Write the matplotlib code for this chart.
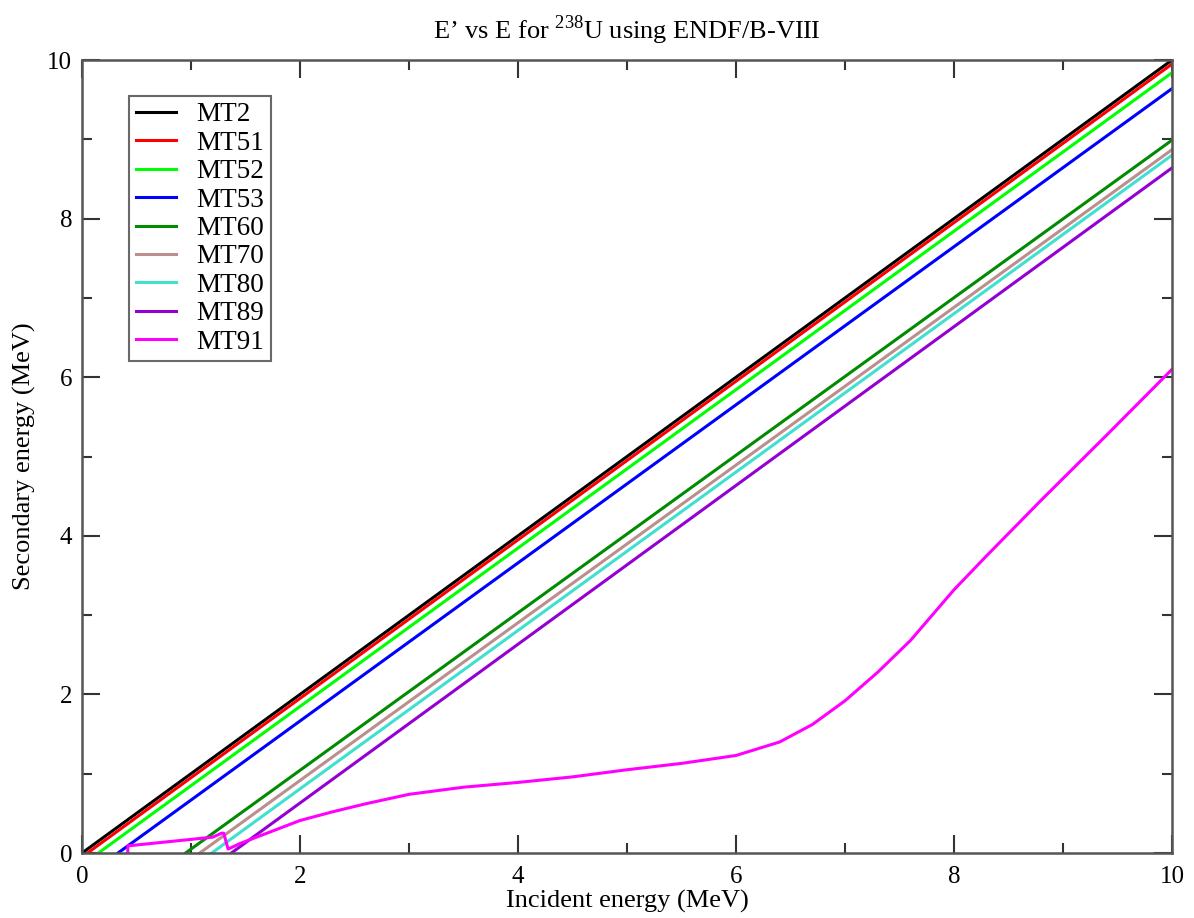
import matplotlib
matplotlib.use("Agg")
import matplotlib.pyplot as plt
from matplotlib.ticker import MultipleLocator

plt.rcParams['font.family'] = ['Liberation Serif', 'DejaVu Serif']
plt.rcParams['mathtext.fontset'] = 'custom'
plt.rcParams['mathtext.rm'] = 'Liberation Serif'

# discrete levels: threshold energy and E' reached at E = 10 MeV
names = ["MT2", "MT51", "MT52", "MT53", "MT60", "MT70", "MT80", "MT89"]
e_start = [0.0, 0.05, 0.15, 0.33, 0.95, 1.08, 1.19, 1.37]
e_end = [10.0, 9.95, 9.84, 9.64, 8.99, 8.87, 8.80, 8.64]
colors = ["#000000", "#ff0000", "#00ff00", "#0000ff", "#008b00",
          "#bc8f8f", "#40e0d0", "#9400d3"]

# continuum (MT91)
mt91_e = [0.42, 0.42, 1.20, 1.28, 1.30, 1.34, 1.45, 2.0, 2.3, 2.6, 3.0, 3.5,
          4.0, 4.5, 5.0, 5.5, 6.0, 6.4, 6.7, 7.0, 7.3, 7.6, 8.0, 8.3, 8.8,
          9.4, 10.0]
mt91_ep = [0.0, 0.09, 0.20, 0.25, 0.25, 0.05, 0.12, 0.41, 0.52, 0.62, 0.74,
           0.83, 0.89, 0.96, 1.05, 1.13, 1.23, 1.40, 1.62, 1.92, 2.28, 2.68,
           3.32, 3.75, 4.45, 5.27, 6.1]

fig = plt.figure(figsize=(11.94, 9.18), dpi=100)
ax = fig.add_axes([0.0687, 0.0708, 0.9129, 0.8638])

for i in range(len(names)):
    ax.plot([e_start[i], 10.0], [0.0, e_end[i]], color=colors[i], lw=2.2,
            label=names[i])
ax.plot(mt91_e, mt91_ep, color="#ff00ff", lw=2.2, label="MT91")

ax.set_xlim(0, 10)
ax.set_ylim(0, 10)
ax.xaxis.set_major_locator(MultipleLocator(2))
ax.xaxis.set_minor_locator(MultipleLocator(1))
ax.yaxis.set_major_locator(MultipleLocator(2))
ax.yaxis.set_minor_locator(MultipleLocator(1))
ax.tick_params(which='both', direction='in', top=True, right=True,
               color='#333333', width=1.5, labelsize=18)
ax.tick_params(which='major', length=13)
ax.tick_params(which='minor', length=7)
ax.tick_params(axis='x', pad=9)
ax.tick_params(axis='y', pad=7)
for s in ax.spines.values():
    s.set_color('#555555')
    s.set_linewidth(1.8)

ax.set_xlabel("Incident energy (MeV)", fontsize=19, labelpad=2)
ax.set_ylabel("Secondary energy (MeV)", fontsize=19, labelpad=8)
ax.set_title(r"E’ vs E for $^{\mathrm{238}}$U using ENDF/B-VIII",
             fontsize=19, pad=15)

leg = ax.legend(loc='upper left', bbox_to_anchor=(0.043, 0.955),
                borderaxespad=0, fontsize=19.5, handlelength=1.5,
                handletextpad=0.75, labelspacing=0.125, fancybox=False,
                frameon=True, borderpad=0.25)
leg.get_frame().set_edgecolor('#444444')
leg.get_frame().set_linewidth(1.5)

fig.savefig("out.png", dpi=100)
